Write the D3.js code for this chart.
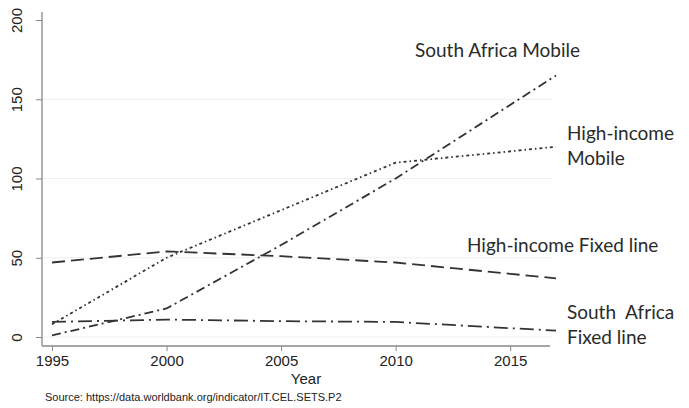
<!DOCTYPE html>
<html>
<head>
<meta charset="utf-8">
<script src="https://cdn.jsdelivr.net/npm/d3@7"></script>
<style>
  body { margin: 0; background: #fff; }
  svg { display: block; }
</style>
</head>
<body>
<svg id="chart"></svg>
<script>
// years where the lines bend
const years = [1995, 2000, 2005, 2010, 2017]

// per 100 people
const saMobile    = [1, 18, 58, 100, 165]
const hiMobile    = [8, 50, 80, 110, 120]
const hiFixed     = [47, 54, 51, 47, 37]
const saFixed     = [9.5, 11, 10, 9.5, 4]

const xTicks = [1995, 2000, 2005, 2010, 2015]
const yTicks = [0, 50, 100, 150, 200]
const gridTicks = [0, 50, 100, 150]

const width = 689, height = 408

const svg = d3.select("#chart")
    .attr("width", width)
    .attr("height", height)

const x = d3.scaleLinear().domain([1995, 2017]).range([52, 556])
const y = d3.scaleLinear().domain([0, 200]).range([337, 20])

const axisFont = "'Liberation Sans', Arial, sans-serif"
const labelFont = "Lato, 'Open Sans', sans-serif"

// faint grid
svg.append("g").selectAll("line")
    .data(gridTicks)
    .enter().append("line")
    .attr("x1", 43).attr("x2", 552)
    .attr("y1", d => y(d)).attr("y2", d => y(d))
    .attr("stroke", "#efefef")
    .attr("stroke-width", 1.2)

// y axis
const yAxis = svg.append("g")
    .attr("transform", "translate(42,0)")
    .call(d3.axisLeft(y).tickValues(yTicks).tickSize(6).tickFormat(d3.format("d")))
yAxis.select(".domain").attr("d", "M0,12V346").attr("stroke", "#888").attr("stroke-width", 1.3)
yAxis.selectAll(".tick line").attr("stroke", "#888")
yAxis.selectAll(".tick text")
    .attr("transform", "rotate(-90)")
    .attr("x", 0).attr("y", -20)
    .attr("dy", 0)
    .attr("text-anchor", "middle")
    .attr("font-family", axisFont)
    .attr("font-size", 15)
    .attr("fill", "#222")

// x axis
const xAxis = svg.append("g")
    .attr("transform", "translate(0,346)")
    .call(d3.axisBottom(x).tickValues(xTicks).tickSize(5).tickFormat(d3.format("d")))
xAxis.select(".domain").attr("d", "M42,0H550").attr("stroke", "#888").attr("stroke-width", 1.3)
xAxis.selectAll(".tick line").attr("stroke", "#888")
xAxis.selectAll(".tick text")
    .attr("y", 9)
    .attr("font-family", axisFont)
    .attr("font-size", 15)
    .attr("fill", "#222")

svg.append("text")
    .attr("x", 306).attr("y", 384)
    .attr("text-anchor", "middle")
    .attr("font-family", axisFont)
    .attr("font-size", 15)
    .attr("fill", "#222")
    .text("Year")

svg.append("text")
    .attr("x", 45).attr("y", 401)
    .attr("font-family", axisFont)
    .attr("font-size", 11)
    .attr("fill", "#222")
    .text("Source: https://data.worldbank.org/indicator/IT.CEL.SETS.P2")

// series
const series = [
    { name: "saMobile", values: saMobile, dash: "9,4,2,4" },
    { name: "hiMobile", values: hiMobile, dash: "3,3,1.5,3" },
    { name: "hiFixed",  values: hiFixed,  dash: "13,6" },
    { name: "saFixed",  values: saFixed,  dash: "14,5,2,5" }
]

const line = d3.line()
    .x((d, i) => x(years[i]))
    .y(d => y(d))

svg.append("g").selectAll("path")
    .data(series)
    .enter().append("path")
    .attr("d", d => line(d.values))
    .attr("fill", "none")
    .attr("stroke", "#333")
    .attr("stroke-width", 1.8)
    .attr("stroke-dasharray", d => d.dash)

// direct labels
const labels = [
    { lines: ["South Africa Mobile"], x: 415, y: 57 },
    { lines: ["High-income", "Mobile"], x: 567, y: 140 },
    { lines: ["High-income Fixed line"], x: 467, y: 252 },
    { lines: ["South  Africa", "Fixed line"], x: 567, y: 319 }
]

labels.forEach(l => {
    const t = svg.append("text")
        .attr("x", l.x).attr("y", l.y)
        .attr("font-family", labelFont)
        .attr("font-size", 19)
        .attr("fill", "#2a2a2a")
        .attr("xml:space", "preserve")
    l.lines.forEach((s, i) => {
        t.append("tspan")
            .attr("x", l.x)
            .attr("dy", i === 0 ? 0 : 25)
            .text(s)
    })
})
</script>
</body>
</html>
